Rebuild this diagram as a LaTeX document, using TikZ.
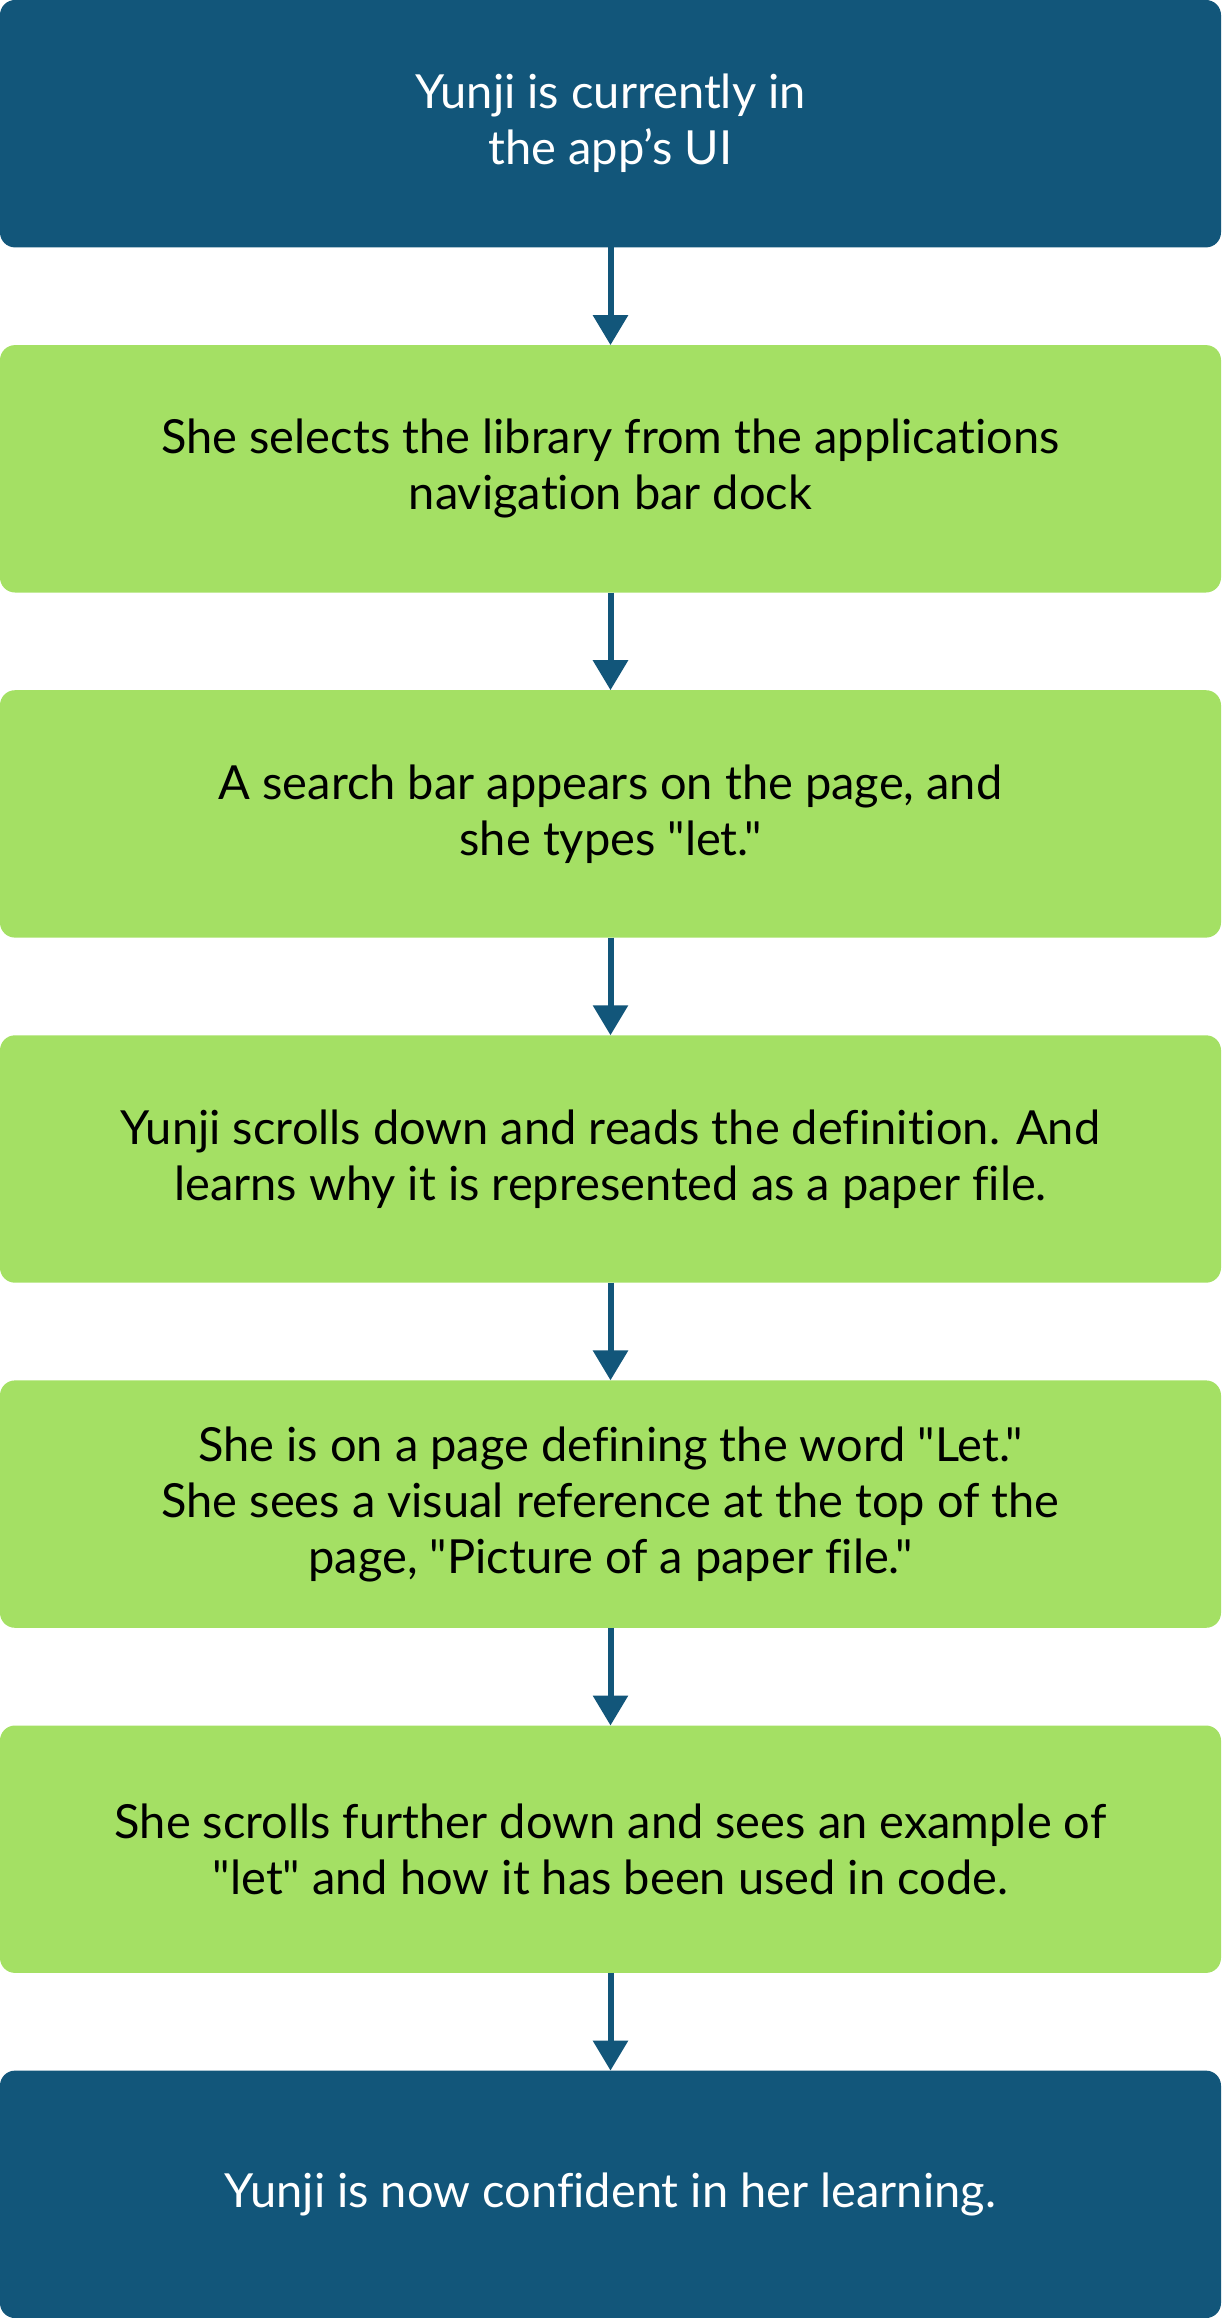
\documentclass[tikz,border=0pt]{standalone}
\usepackage{fontspec}
\setmainfont{Lato}[Ligatures={TeXOff,NoCommon}]
\usetikzlibrary{arrows.meta}
\definecolor{flowblue}{RGB}{18,86,122}
\definecolor{flowgreen}{RGB}{164,224,100}
\tikzset{
  flowbox/.style={rectangle, rounded corners=7.5pt, inner sep=0pt, outer sep=0pt,
    minimum width=610.5pt, minimum height=123.7pt, align=center,
    font=\fontsize{23.5}{28}\selectfont},
  endbox/.style={flowbox, fill=flowblue, text=white},
  stepbox/.style={flowbox, fill=flowgreen, text=black},
  link/.style={draw=flowblue, line width=3pt, -{Triangle[width=17pt,length=15pt]}}
}
\begin{document}
\begin{tikzpicture}
        \useasboundingbox (-305.25pt,61.85pt) rectangle (305.25pt,-1097.15pt);

        % start
        \node[endbox] at (0,0) (start) {Yunji is currently in\\the app’s UI};

        % steps
        \node[stepbox] at (0,-172.55pt) (library) {She selects the library from the applications\\navigation bar dock};
        \node[stepbox] at (0,-345.1pt) (search) {A search bar appears on the page, and\\she types "let."};
        \node[stepbox] at (0,-517.65pt) (definition) {Yunji scrolls down and reads the definition. And\\learns why it is represented as a paper file.};
        \node[stepbox] at (0,-690.2pt) (page) {She is on a page defining the word "Let."\\She sees a visual reference at the top of the\\page, "Picture of a paper file."};
        \node[stepbox] at (0,-862.75pt) (example) {She scrolls further down and sees an example of\\"let" and how it has been used in code.};

        % end
        \node[endbox] at (0,-1035.3pt) (confident) {Yunji is now confident in her learning.};

        % links
        \draw[link] (start) -- (library);
        \draw[link] (library) -- (search);
        \draw[link] (search) -- (definition);
        \draw[link] (definition) -- (page);
        \draw[link] (page) -- (example);
        \draw[link] (example) -- (confident);
    \end{tikzpicture}
\end{document}
